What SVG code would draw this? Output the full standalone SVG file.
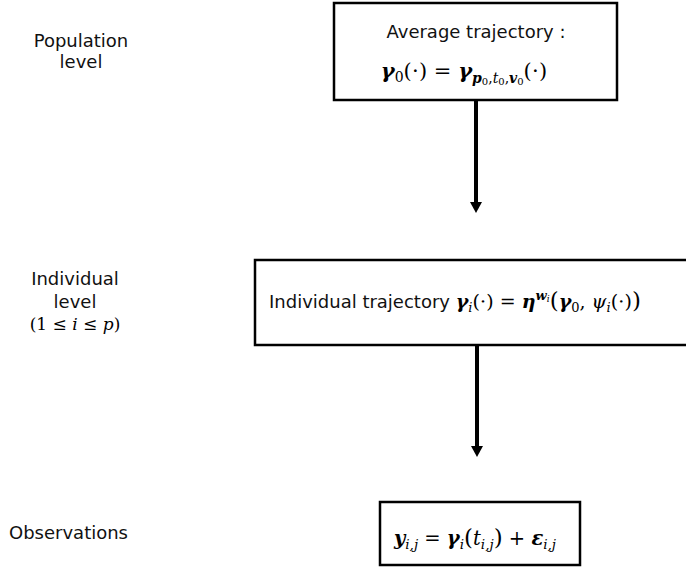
<svg xmlns="http://www.w3.org/2000/svg" width="686" height="567" viewBox="0 0 686 567">
<defs>
<style>
.box{fill:#fff;stroke:#000;stroke-width:2.5}
.lbl{font-family:"DejaVu Sans","Liberation Sans",sans-serif;font-size:18px;fill:#111}
.math{font-family:"DejaVu Serif","Liberation Serif",serif;fill:#000}
.bi{font-weight:bold;font-style:italic}
.it{font-style:italic}
.conn{stroke:#000;stroke-width:4;fill:none}
</style>
</defs>
<rect width="686" height="567" fill="#fff"/>

<g id="label-population">
<text class="lbl" x="81" y="47" text-anchor="middle">Population</text>
<text class="lbl" x="81" y="68" text-anchor="middle">level</text>
</g>
<g id="label-individual">
<text class="lbl" x="75" y="285" text-anchor="middle">Individual</text>
<text class="lbl" x="75" y="308" text-anchor="middle">level</text>
<text class="math" x="75" y="330" text-anchor="middle" style="font-size:17px">(1 ≤ <tspan class="it">i</tspan> ≤ <tspan class="it">p</tspan>)</text>
</g>
<g id="label-observations">
<text class="lbl" x="9" y="539">Observations</text>
</g>

<g id="connectors">
<line class="conn" x1="476" y1="101" x2="476" y2="203"/>
<polygon points="470,202 482,202 476,213" fill="#000"/>
<line class="conn" x1="477" y1="345" x2="477" y2="447"/>
<polygon points="471,446 483,446 477,457" fill="#000"/>
</g>

<g id="node-average">
<rect class="box" x="334" y="3" width="283" height="97"/>
<text class="lbl" x="476" y="38" text-anchor="middle">Average trajectory :</text>
<text class="math" x="464" y="78" text-anchor="middle" style="font-size:21px"><tspan class="bi">γ</tspan><tspan style="font-size:14px" dy="4">0</tspan><tspan dy="-4">(⋅) = </tspan><tspan class="bi">γ</tspan><tspan class="bi" style="font-size:14px" dy="5">p</tspan><tspan style="font-size:10px" dy="2">0</tspan><tspan style="font-size:14px" dy="-2">,</tspan><tspan class="it" style="font-size:14px">t</tspan><tspan style="font-size:10px" dy="2">0</tspan><tspan style="font-size:14px" dy="-2">,</tspan><tspan class="bi" style="font-size:14px">v</tspan><tspan style="font-size:10px" dy="2">0</tspan><tspan dy="-7">(⋅)</tspan></text>
</g>

<g id="node-individual">
<rect class="box" x="255" y="260" width="450" height="85"/>
<text x="269" y="308"><tspan class="lbl">Individual trajectory </tspan><tspan class="math bi" style="font-size:19px">γ</tspan><tspan class="math it" style="font-size:13px" dy="4">i</tspan><tspan class="math" style="font-size:19px" dy="-4">(⋅) = </tspan><tspan class="math bi" style="font-size:19px">η</tspan><tspan class="math bi" style="font-size:13px" dy="-8">w</tspan><tspan class="math it" style="font-size:9px" dy="2">i</tspan><tspan class="math" style="font-size:23px" dy="6">(</tspan><tspan class="math bi" style="font-size:19px">γ</tspan><tspan class="math" style="font-size:13px" dy="4">0</tspan><tspan class="math" style="font-size:19px" dy="-4">, </tspan><tspan class="math it" style="font-size:19px">ψ</tspan><tspan class="math it" style="font-size:13px" dy="4">i</tspan><tspan class="math" style="font-size:19px" dy="-4">(⋅)</tspan><tspan class="math" style="font-size:23px">)</tspan></text>
</g>

<g id="node-observations">
<rect class="box" x="380" y="502" width="200" height="63"/>
<text class="math" x="475" y="545" text-anchor="middle" style="font-size:19.5px"><tspan class="bi">y</tspan><tspan class="it" style="font-size:13.5px" dy="4">i,j</tspan><tspan dy="-4"> = </tspan><tspan class="bi">γ</tspan><tspan class="it" style="font-size:13.5px" dy="4">i</tspan><tspan dy="-4" style="font-size:23px">(</tspan><tspan class="it">t</tspan><tspan class="it" style="font-size:13.5px" dy="4">i,j</tspan><tspan dy="-4" style="font-size:23px">)</tspan><tspan> + </tspan><tspan class="bi">ε</tspan><tspan class="it" style="font-size:13.5px" dy="4">i,j</tspan></text>
</g>
</svg>
